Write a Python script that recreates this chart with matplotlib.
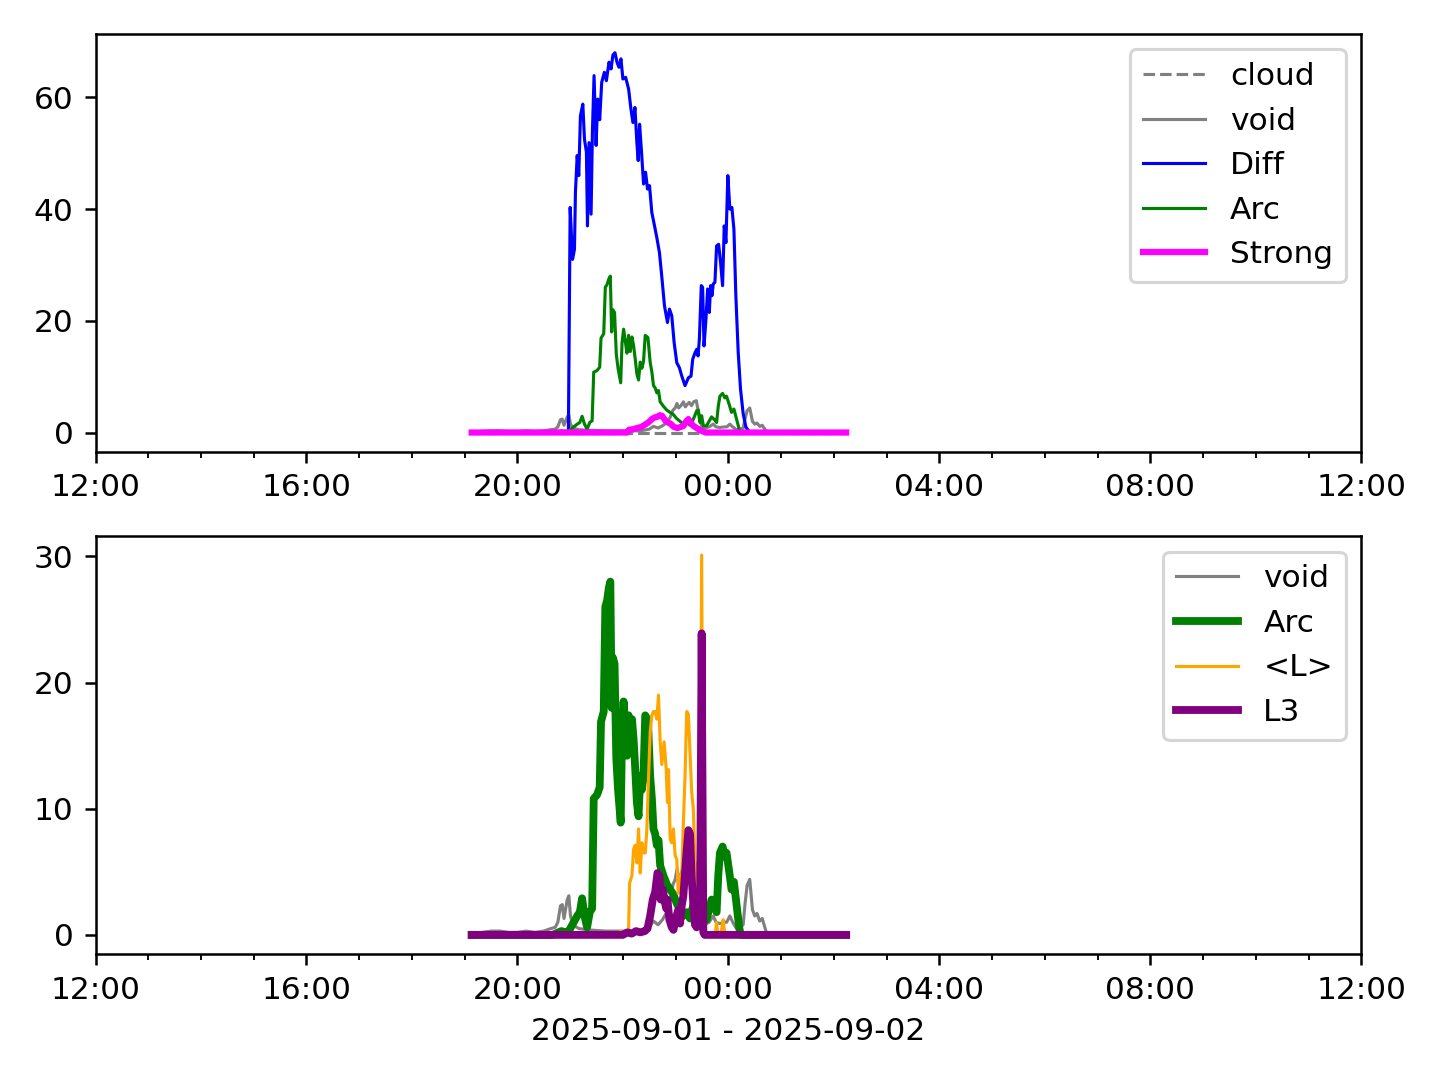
import matplotlib
matplotlib.use("Agg")
import matplotlib.pyplot as plt
import matplotlib.dates as mdates
from matplotlib.ticker import MultipleLocator
import pandas as pd

# time base: minutes after 2025-09-01 20:00
t0 = pd.Timestamp("2025-09-01 20:00")
x_start = pd.Timestamp("2025-09-01 12:00")
x_end = pd.Timestamp("2025-09-02 12:00")
tick_fmt = "%H:%M"
x_label = "2025-09-01 - 2025-09-02"

cloud_t = [-52, 374]
cloud_v = [0, 0]

void_t = [-52, -40, -30, -20, -10, 0, 10, 20, 30, 38, 43, 46, 49, 51, 53, 56.7, 58.5, 60.4,
          63, 70, 80, 100, 120, 140, 150, 154.8, 160, 165, 170, 174, 177, 179.5, 181.5,
          183.5, 186, 188.8, 191, 193, 195.5, 198, 200.5, 203.5, 205.8, 208, 210, 213, 218,
          222.8, 226, 230.3, 235, 238, 241.7, 245, 249.2, 253, 256.8, 259, 261.3, 264.3,
          267.4, 270, 272.5, 275.7, 278.5, 283.2, 286, 374]
void_v = [0.1, 0.2, 0.3, 0.3, 0.2, 0.2, 0.3, 0.2, 0.3, 0.5, 0.6, 1.0, 2.3, 2.4, 1.3, 2.8, 3.1, 1.5,
          0.8, 0.5, 0.4, 0.3, 0.3, 0.3, 0.6, 1.1, 0.8, 1.2, 1.8, 2.8, 4.0, 4.4, 5.2,
          4.4, 4.8, 5.5, 4.6, 5.0, 5.4, 4.8, 5.5, 5.7, 3.8, 2.0, 1.0, 0.8, 1.0,
          1.5, 1.0, 0.9, 1.0, 1.0, 1.5, 1.0, 0.5, 0.6, 0.8, 2.5, 3.9, 4.4,
          2.0, 1.5, 1.7, 1.1, 1.3, 0.2, 0.0, 0.0]

diff_t = [-52, 58, 60, 62.7, 64.9, 66, 68, 69.8, 71.7, 74.4, 76.3, 78.5, 79.7, 81.5, 83.8, 85.3,
          87.2, 89.5, 91.4, 93.6, 95.9, 98.9, 101.2, 104.2, 106.5, 108.7, 111, 113.3, 115.5,
          117.8, 120, 123.1, 126.5, 129.1, 131.4, 133.7, 135.9, 137.4, 139, 141.2, 143.5,
          145.8, 148, 150.3, 152.9, 155.6, 158.6, 161.6, 164.5, 167.3, 170.7, 173, 175.6,
          178.3, 181.3, 184.3, 187, 190.7, 194.5, 197.5, 199.4, 202.1, 204, 205.5, 207, 209.2,
          210.7, 212.3, 214.5, 216.4, 218.3, 219.8, 221.3, 222.8, 224.7, 226.6, 228.9, 231.1,
          233.4, 235.3, 237.2, 239.4, 241.7, 244, 246.3, 248.5, 251.2, 253.8, 256.8, 259.9,
          262.5, 265, 374]
diff_v = [0, 0, 40.3, 31.0, 32.8, 43.0, 49.6, 46.0, 56.7, 58.8, 52.5, 50.2, 37.0, 51.9, 39.1, 53.7,
          63.9, 51.4, 59.7, 56.0, 62.7, 64.5, 63.0, 66.3, 65.1, 67.6, 68.0, 66.3, 65.4,
          66.9, 63.3, 63.6, 61.5, 58.0, 55.5, 58.2, 51.9, 48.7, 55.2, 50.2, 44.5,
          46.6, 43.6, 44.2, 39.4, 37.3, 34.9, 32.2, 27.5, 22.7, 19.7, 22.1, 20.9,
          16.1, 12.5, 11.6, 10.1, 8.4, 9.8, 10.1, 13.1, 14.3, 14.9, 13.7, 16.7, 26.3,
          26.0, 15.5, 20.3, 25.7, 21.5, 26.3, 24.5, 26.6, 26.9, 33.4, 33.7, 30.5,
          26.3, 37.0, 34.0, 46.0, 40.0, 40.3, 36.4, 24.5, 14.3, 7.8, 3.4, 1.0,
          0.4, 0, 0]

arc_t = [-52, 40, 50, 55, 58.5, 64, 68, 71, 73.6, 76.3, 79.3, 82.3, 85, 86.8, 90.6, 93.6, 95.1,
         98.2, 100, 102, 104, 105.7, 107.2, 108.5, 110.5, 112.5, 114.5, 117.5, 119, 120.8,
         122.6, 124.6, 126.5, 128.4, 130.3, 132.2, 134, 135.9, 137.8, 139.7, 141.6, 143.5,
         145.4, 148.5, 151, 153, 154.8, 156.7, 158.6, 160.5, 162.4, 166.1, 170, 173.7, 177.5,
         181.2, 185, 188.8, 192.6, 196.4, 200.2, 204, 205.8, 207.7, 209.6, 211.5, 215.2,
         217.1, 220.9, 224.7, 226.6, 228.5, 230.4, 233.4, 236, 237.9, 241, 243.6, 246.3,
         249.3, 252.3, 254, 374]
arc_v = [0, 0, 0.3, 0.2, 0.3, 1.0, 1.5, 1.8, 2.9, 1.5, 0.6, 1.8, 2.1, 10.8, 11.1, 11.7, 16.9,
         17.7, 26.0, 26.5, 27.5, 28.0, 18.0, 22.0, 21.5, 14.0, 11.5, 8.9, 16.0, 18.5,
         16.5, 14.2, 17.4, 14.5, 17.1, 15.5, 13.2, 10.5, 9.4, 12.6, 11.5, 12.8,
         17.4, 17.0, 12.6, 10.8, 8.4, 8.0, 7.1, 7.5, 5.5, 4.7, 4.0, 3.6, 3.2,
         2.5, 2.0, 1.5, 1.8, 1.3, 2.4, 3.9, 4.0, 1.8, 3.0, 1.2, 1.2,
         1.75, 2.8, 2.2, 1.8, 4.7, 6.5, 7.0, 6.2, 6.5, 5.0, 3.6, 4.2,
         2.4, 0.6, 0, 0]

strong_t = [-52, 125, 127, 132, 136, 141, 145, 149, 153, 156, 159, 162, 164.5, 168, 171, 174,
            178, 182, 186, 189, 192, 194.5, 197, 200, 204, 208, 211, 214, 374]
strong_v = [0, 0, 0.5, 0.6, 0.8, 1.0, 1.4, 1.8, 2.4, 2.7, 2.8, 3.1, 3.0, 2.2, 1.8, 1.6,
            1.0, 0.8, 1.0, 1.2, 2.0, 2.4, 1.8, 1.2, 0.8, 0.4, 0.2, 0, 0]

lavg_t = [-52, 84, 85, 86, 116, 117, 118, 125.5, 126.5, 127.6, 130.3, 132.2, 134, 135.9, 137.8,
          139.7, 141.6, 143.5, 145.5, 147.3, 149.2, 151.1, 152.9, 154.9, 156.7, 158.6, 160.5,
          162.4, 164.3, 166.9, 169.2, 170.7, 171.9, 173.8, 175.6, 177.5, 179.4, 181.3, 183,
          185, 186.5, 188.8, 190.7, 192.6, 194.5, 196.4, 198.3, 200.1, 202, 203.9, 205.8,
          207.7, 209.6, 211.5, 213, 225, 226.6, 228, 232, 234.1, 236, 374]
lavg_v = [0, 0, 0.2, 0, 0, 0.3, 0, 0, 0.5, 4.1, 4.7, 6.8, 7.1, 5.7, 8.4,
          4.9, 7.3, 6.5, 6.5, 8.4, 12.6, 16.1, 17.4, 17.7, 17.7, 17.1, 19.0,
          15.3, 13.5, 15.3, 13.2, 10.5, 13.1, 7.6, 7.3, 8.4, 6.3, 6.0, 3.3,
          4.7, 3.5, 8.9, 12.6, 17.7, 17.5, 14.4, 11.3, 10.0, 5.9, 1.9, 1.5,
          1.5, 30.1, 0.4, 0, 0, 1.0, 0, 0.3, 1.2, 0, 0]

l3_t = [-52, 120, 125, 130, 135, 139.7, 145, 148, 151, 154, 156.7, 159.3, 161.6, 163.1, 165.4,
        167.2, 169.2, 170.7, 172.9, 175.6, 177.5, 180.5, 183.1, 185, 186.9, 188.8, 191.8,
        194.5, 196.4, 198.2, 200.1, 202, 203.9, 205.8, 207.7, 209.6, 211.5, 213, 374]
l3_v = [0, 0, 0.2, 0.1, 0.3, 0.2, 0.3, 0.5, 1.5, 2.8, 3.4, 4.9, 4.7, 2.8, 3.6,
        2.8, 2.1, 2.8, 1.2, 0.6, 0.4, 1.4, 2.0, 0.9, 2.3, 3.1, 6.0,
        8.3, 8.0, 4.6, 2.5, 0.8, 0.6, 1.5, 0.8, 23.9, 0.2, 0, 0]


def tt(mins):
    return [t0 + pd.Timedelta(minutes=m) for m in mins]


fig, (ax1, ax2) = plt.subplots(2, 1, figsize=(6.4, 4.8), dpi=225)

ax1.plot(tt(cloud_t), cloud_v, color="gray", ls="--", lw=1, label="cloud")
ax1.plot(tt(void_t), void_v, color="gray", lw=1, label="void")
ax1.plot(tt(diff_t), diff_v, color="blue", lw=1, label="Diff")
ax1.plot(tt(arc_t), arc_v, color="green", lw=1, label="Arc")
ax1.plot(tt(strong_t), strong_v, color="magenta", lw=2, label="Strong")
ax1.legend(loc="upper right")

ax2.plot(tt(void_t), void_v, color="gray", lw=1, label="void")
ax2.plot(tt(arc_t), arc_v, color="green", lw=2.5, label="Arc")
ax2.plot(tt(lavg_t), lavg_v, color="orange", lw=1, label="<L>")
ax2.plot(tt(l3_t), l3_v, color="purple", lw=2.5, label="L3")
ax2.legend(loc="upper right")
ax2.set_xlabel(x_label)
ax2.yaxis.set_major_locator(MultipleLocator(10))

for ax in (ax1, ax2):
    ax.set_xlim(x_start, x_end)
    ax.xaxis.set_major_locator(mdates.HourLocator(byhour=[0, 4, 8, 12, 16, 20]))
    ax.xaxis.set_minor_locator(mdates.HourLocator())
    ax.xaxis.set_major_formatter(mdates.DateFormatter(tick_fmt))

fig.tight_layout()
fig.savefig("out.png", dpi=225)
